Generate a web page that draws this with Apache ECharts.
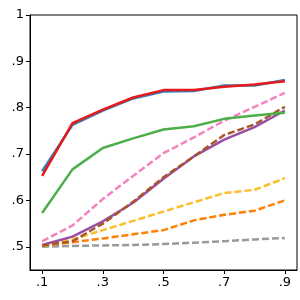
<!DOCTYPE html>
<html>
<head>
<meta charset="utf-8">
<script src="https://cdn.jsdelivr.net/npm/echarts@6/dist/echarts.min.js"></script>
<style>html,body{margin:0;padding:0;background:#fff}#c{width:300px;height:300px}</style>
</head>
<body>
<div id="c"></div>
<script>
var xs = [0.1, 0.2, 0.3, 0.4, 0.5, 0.6, 0.7, 0.8, 0.9];
var xTicks = [0.1, 0.3, 0.5, 0.7, 0.9];
var yTicks = [0.5, 0.6, 0.7, 0.8, 0.9, 1.0];

var grayVals   = [0.500, 0.502, 0.503, 0.504, 0.506, 0.509, 0.512, 0.516, 0.519];
var orangeVals = [0.502, 0.510, 0.518, 0.527, 0.536, 0.557, 0.569, 0.578, 0.600];
var yellowVals = [0.502, 0.516, 0.536, 0.556, 0.576, 0.596, 0.616, 0.623, 0.648];
var brownVals  = [0.503, 0.512, 0.550, 0.597, 0.650, 0.695, 0.741, 0.764, 0.802];
var purpleVals = [0.504, 0.522, 0.555, 0.595, 0.647, 0.695, 0.731, 0.758, 0.794];
var pinkVals   = [0.512, 0.546, 0.603, 0.653, 0.702, 0.736, 0.772, 0.802, 0.832];
var greenVals  = [0.573, 0.667, 0.713, 0.734, 0.753, 0.760, 0.776, 0.783, 0.789];
var blueVals   = [0.663, 0.763, 0.794, 0.820, 0.835, 0.836, 0.848, 0.848, 0.860];
var redVals    = [0.653, 0.767, 0.796, 0.822, 0.838, 0.838, 0.845, 0.850, 0.857];

function pts(v){ return xs.map(function(x,i){ return [x, v[i]]; }); }
function mk(vals, color, dashed){
  return {
    type: 'line', data: pts(vals), symbol: 'none', smooth: false,
    lineStyle: { color: color, width: 2.5, type: dashed ? [7, 3] : 'solid' },
    itemStyle: { color: color }, animation: false
  };
}
function fmt(v){
  var s = (Math.round(v*10)/10).toFixed(1);
  if (s === '1.0') return '1';
  return s.replace(/^0/, '');
}

var chart = echarts.init(document.getElementById('c'), null, {renderer: 'canvas'});
chart.setOption({
  animation: false,
  grid: { left: 30, top: 15, right: 3, bottom: 30, show: true, borderColor: '#000', borderWidth: 1, backgroundColor: 'transparent' },
  xAxis: {
    type: 'value', min: 0.06, max: 0.94,
    axisLine: { show: true, lineStyle: { color: '#000', width: 1 } },
    axisTick: { show: true, length: 4, lineStyle: { color: '#000' }, customValues: xTicks },
    axisLabel: { color: '#000', fontSize: 13, fontFamily: 'DejaVu Sans', margin: 6, customValues: xTicks, formatter: fmt },
    splitLine: { show: false }
  },
  yAxis: {
    type: 'value', min: 0.45, max: 1.0,
    axisLine: { show: true, lineStyle: { color: '#000', width: 1 } },
    axisTick: { show: true, length: 4, lineStyle: { color: '#000' }, customValues: yTicks },
    axisLabel: { color: '#000', fontSize: 13, fontFamily: 'DejaVu Sans', margin: 6, customValues: yTicks, formatter: fmt },
    splitLine: { show: false }
  },
  series: [
    mk(grayVals, '#999999', true),
    mk(orangeVals, '#ff7f00', true),
    mk(yellowVals, '#fbbf2d', true),
    mk(purpleVals, '#984ea3', false),
    mk(brownVals, '#a65628', true),
    mk(pinkVals, '#f781bf', true),
    mk(greenVals, '#4daf4a', false),
    mk(blueVals, '#377eb8', false),
    mk(redVals, '#e41a1c', false)
  ]
});
</script>
</body>
</html>
